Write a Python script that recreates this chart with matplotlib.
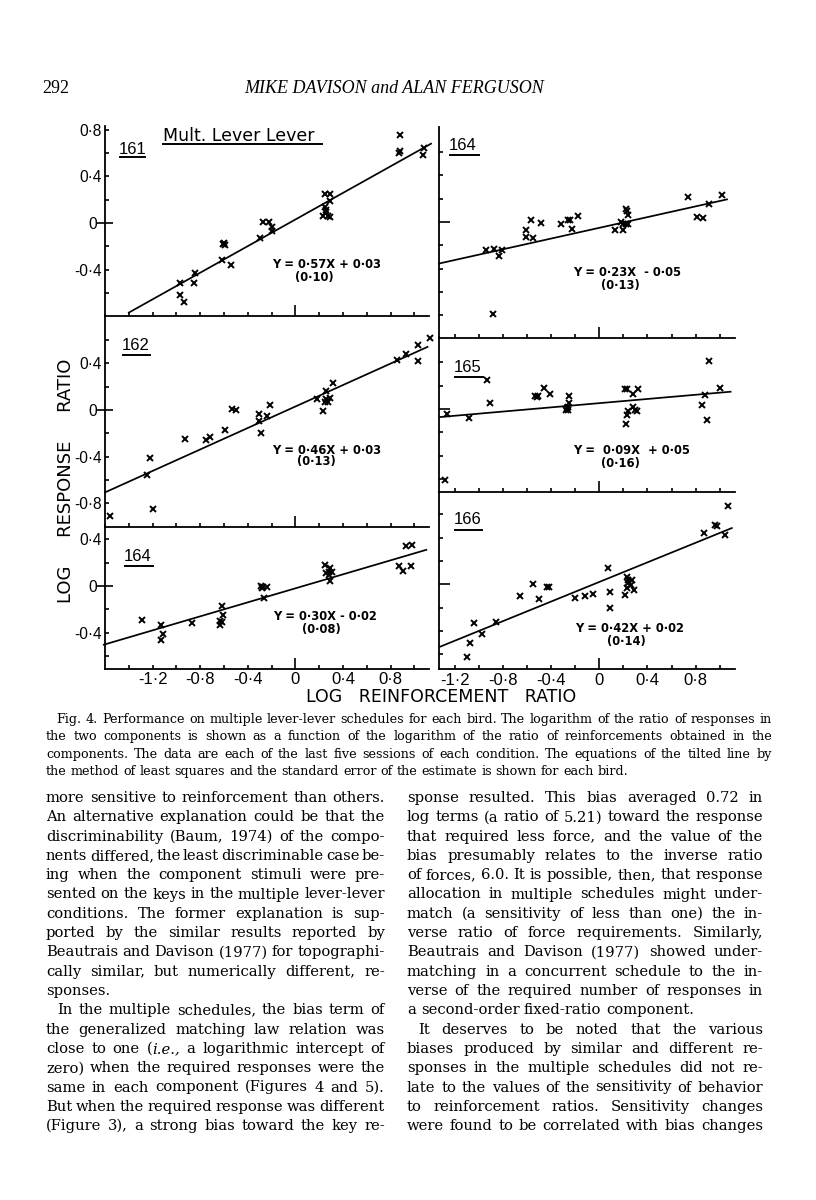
import matplotlib.pyplot as plt
from matplotlib.font_manager import FontProperties
from matplotlib.lines import Line2D

# ---- data (log reinforcement ratio, log response ratio) ----
x_161 = [0.88, 0.87, 0.88, 1.08, 1.07, 0.25, 0.29, 0.29, 0.25, 0.26, 0.23, 0.27, 0.29, 0.26,
         -0.27, -0.22, -0.20, -0.20, -0.30, -0.60, -0.59, -0.61, -0.62, -0.54, -0.84, -0.85,
         -0.97, -0.97, -0.94]
y_161 = [0.75, 0.60, 0.62, 0.64, 0.58, 0.25, 0.25, 0.19, 0.14, 0.11, 0.06, 0.06, 0.05, 0.09,
         0.01, 0.01, -0.03, -0.07, -0.13, -0.17, -0.19, -0.18, -0.32, -0.36, -0.43, -0.51,
         -0.51, -0.62, -0.68]

x_162 = [1.13, 1.03, 0.93, 0.85, 1.03, 0.32, 0.26, 0.18, 0.26, 0.27, 0.29, 0.25, 0.23, -0.21,
         -0.31, -0.31, -0.24, -0.29, -0.53, -0.50, -0.59, -0.75, -0.72, -0.93, -1.22, -1.25,
         -1.20, -1.56]
y_162 = [0.62, 0.56, 0.48, 0.43, 0.42, 0.23, 0.16, 0.09, 0.09, 0.07, 0.10, 0.07, -0.01, 0.04,
         -0.03, -0.09, -0.05, -0.20, 0.01, 0.00, -0.17, -0.26, -0.23, -0.25, -0.41, -0.56,
         -0.85, -0.91]

x_164a = [0.93, 0.98, 0.87, 0.90, 0.97, 0.25, 0.29, 0.26, 0.28, 0.31, 0.28, 0.29, -0.29, -0.28,
          -0.24, -0.27, -0.26, -0.62, -0.61, -0.63, -0.63, -0.62, -0.87, -1.29, -1.13, -1.11,
          -1.13]
y_164a = [0.34, 0.35, 0.17, 0.13, 0.17, 0.18, 0.15, 0.11, 0.09, 0.12, 0.12, 0.04, 0.00, -0.02,
          -0.01, -0.01, -0.10, -0.17, -0.25, -0.30, -0.33, -0.31, -0.32, -0.29, -0.33, -0.41,
          -0.46]

x_164b = [-0.88, -0.94, -0.87, -0.81, -0.83, -0.61, -0.61, -0.55, -0.57, -0.48, -0.32, -0.26,
          -0.24, -0.18, -0.23, 0.13, 0.18, 0.20, 0.22, 0.24, 0.20, 0.22, 0.23, 0.24, 0.74, 0.91,
          0.81, 0.86, 1.02]
y_164b = [-0.79, -0.24, -0.23, -0.24, -0.29, -0.07, -0.13, -0.14, 0.02, -0.01, -0.02, 0.02,
          0.02, 0.05, -0.06, -0.07, 0.00, -0.02, -0.02, -0.02, -0.07, 0.11, 0.09, 0.06, 0.21,
          0.15, 0.04, 0.03, 0.23]

x_165 = [0.91, 1.00, 0.88, 0.85, 0.89, -0.93, -0.91, -1.26, -1.08, -1.28, -0.53, -0.51, -0.52,
         -0.46, -0.41, -0.25, -0.25, -0.27, -0.28, -0.26, -0.26, 0.21, 0.23, 0.28, 0.32, 0.22,
         0.23, 0.24, 0.28, 0.30, 0.31]
y_165 = [0.41, 0.18, 0.12, 0.03, -0.09, 0.25, 0.05, -0.04, -0.08, -0.61, 0.11, 0.11, 0.10,
         0.18, 0.13, 0.11, 0.05, 0.01, -0.01, -0.01, 0.02, 0.17, 0.17, 0.13, 0.17, -0.13,
         -0.05, -0.02, 0.02, -0.01, -0.02]

x_166 = [1.07, 0.96, 0.98, 0.87, 1.04, 0.07, 0.23, 0.27, 0.24, 0.26, 0.23, 0.29, 0.21, 0.24,
         0.09, 0.09, -0.05, -0.12, -0.20, -0.55, -0.43, -0.42, -0.50, -0.66, -0.86, -0.97,
         -1.04, -1.07, -1.10]
y_166 = [0.67, 0.51, 0.50, 0.44, 0.42, 0.14, 0.06, 0.04, 0.01, -0.01, -0.03, -0.05, -0.09, 0.04,
         -0.07, -0.20, -0.08, -0.10, -0.12, 0.00, -0.02, -0.02, -0.13, -0.10, -0.32, -0.43,
         -0.33, -0.50, -0.62]

birds = ["161", "162", "164", "164", "165", "166"]
slopes = [0.57, 0.46, 0.30, 0.23, 0.09, 0.42]
intercepts = [0.03, 0.03, -0.02, -0.05, 0.05, 0.02]
std_errors = ["0·10", "0·13", "0·08", "0·13", "0·16", "0·14"]
fit_ranges = [(-1.40, 1.14), (-1.60, 1.11), (-1.61, 1.10),
              (-1.33, 1.06), (-1.32, 1.09), (-1.32, 1.10)]
equations = ["Y = 0·57X + 0·03", "Y = 0·46X + 0·03", "Y = 0·30X - 0·02",
             "Y = 0·23X  - 0·05", "Y =  0·09X  + 0·05", "Y = 0·42X + 0·02"]
xs = [x_161, x_162, x_164a, x_164b, x_165, x_166]
ys = [y_161, y_162, y_164a, y_164b, y_165, y_166]

xtick_labels = ["-1·2", "-0·8", "-0·4", "0", "0·4", "0·8"]

W, H = 816, 1200
PX = 116.7  # pixels per log unit, vertical

fig = plt.figure(figsize=(W / 100, H / 100), dpi=100)
rend = fig.canvas.get_renderer()


def fx(x):
    return x / W


def fy(y):
    return 1 - y / H


# column: left px, xlim, px per unit
columns = {"L": (105, (-1.6, 1.12), 119.0), "R": (439, (-1.33, 1.13), 120.5)}
# panel: column, pixel y of zero, ylim, label pos, underline, equation pos, paren pos
panels = [
    ("L", 223.0, (-0.80, 0.83), (119, 149), (120, 145, 157), (272, 265), (295, 277)),
    ("L", 410.0, (-1.00, 0.81), (122, 345), (123, 150, 355), (272, 450), (297, 462)),
    ("L", 586.0, (-0.71, 0.52), (124, 557), (125, 153, 566), (273, 617), (302, 630)),
    ("R", 222.0, (-0.995, 0.81), (449, 146), (450, 479, 155), (573, 273), (601, 286)),
    ("R", 409.0, (-0.71, 0.62), (454, 367), (455, 483, 377), (573, 450), (601, 463.5)),
    ("R", 584.3, (-0.73, 0.79), (454, 520), (455, 482, 530), (575, 628.5), (607, 642)),
]

TICK_FAMILY = "Liberation Sans"
axes = []
for i, (col, zero_px, ylim, lab, ul, eq, par) in enumerate(panels):
    left, xlim, xscale = columns[col]
    h = (ylim[1] - ylim[0]) * PX
    w = (xlim[1] - xlim[0]) * xscale
    top = zero_px - ylim[1] * PX
    ax = fig.add_axes([fx(left), fy(top + h), w / W, h / H])
    axes.append(ax)
    ax.set_xlim(*xlim)
    ax.set_ylim(*ylim)
    for s in ["top", "right"]:
        ax.spines[s].set_visible(False)
    for s in ["left", "bottom"]:
        ax.spines[s].set_linewidth(1.3)
    ax.patch.set_alpha(0)

    # x ticks every 0.2, long tick at zero
    start = -1.4 if col == "L" else -1.2
    xt = [round(start + 0.2 * k, 1) for k in range(int(round((1.0 - start) / 0.2)) + 1)]
    xt_minor = [v for v in xt if abs(v) > 1e-9]
    bottom_row = i in (2, 5)
    lab_map = {float(t.replace("·", ".")): t for t in xtick_labels}
    ax.set_xticks([0.0], ["0" if bottom_row else ""])
    ax.set_xticks(xt_minor, [lab_map.get(v, "") if bottom_row else "" for v in xt_minor],
                  minor=True)
    ax.tick_params(axis="x", which="minor", direction="in", length=3.2, width=1.2, pad=2.5,
                   labelsize=12)
    ax.tick_params(axis="x", which="major", direction="in", length=8, width=1.2, pad=2.5,
                   labelsize=12)

    # y ticks every 0.2, long tick at zero
    yt = [round(0.2 * k, 1) for k in range(-5, 5)]
    yt_minor = [v for v in yt if ylim[0] + 0.03 < v < ylim[1] - 0.025 and abs(v) > 1e-9]
    if col == "L":
        ylab = {v: ("" if round(v / 0.2) % 2 else f"{v:.1f}".replace(".", "·"))
                for v in yt_minor}
        ax.set_yticks([0.0], ["0"])
        ax.set_yticks(yt_minor, [ylab[v] for v in yt_minor], minor=True)
        ax.tick_params(axis="y", which="major", direction="inout", length=12, width=1.2,
                       pad=0, labelsize=11.2)
    else:
        ax.set_yticks([0.0], [""])
        ax.set_yticks(yt_minor, [""] * len(yt_minor), minor=True)
        ax.tick_params(axis="y", which="major", direction="in", length=8, width=1.2)
    ax.tick_params(axis="y", which="minor", direction="in", length=3.2, width=1.2, pad=2,
                   labelsize=11.2)
    for t in ax.get_xticklabels(which="both") + ax.get_yticklabels(which="both"):
        t.set_family(TICK_FAMILY)

    # fitted line and points
    a, b = fit_ranges[i]
    ax.plot([a, b], [slopes[i] * a + intercepts[i], slopes[i] * b + intercepts[i]],
            color="black", lw=1.25, clip_on=False, zorder=2)
    ax.plot(xs[i], ys[i], linestyle="none", marker="x", ms=4.9, mew=1.4, color="black",
            clip_on=False, zorder=3)

    # bird number, underlined
    fig.text(fx(lab[0]), fy(lab[1]), birds[i], fontsize=12, family="Liberation Sans",
             ha="left", va="center")
    fig.add_artist(Line2D([fx(ul[0]), fx(ul[1])], [fy(ul[2]), fy(ul[2])], color="black",
                          lw=1.4))

    # equation and standard error
    fig.text(fx(eq[0]), fy(eq[1]), equations[i], fontsize=8.3, weight="bold",
             family="DejaVu Sans", ha="left", va="center")
    fig.text(fx(par[0]), fy(par[1]), "(" + std_errors[i] + ")", fontsize=8.3,
             weight="bold", family="DejaVu Sans", ha="left", va="center")

# title of the figure
fig.text(fx(163), fy(136), "Mult. Lever Lever", fontsize=12.5, family="DejaVu Sans",
         ha="left", va="center")
fig.add_artist(Line2D([fx(163), fx(322)], [fy(144), fy(144)], color="black", lw=1.4))

# axis titles
fig.text(fx(441), fy(697), "LOG   REINFORCEMENT   RATIO", fontsize=12.5,
         family="DejaVu Sans", ha="center", va="center")
fig.text(fx(66), fy(481), "LOG     RESPONSE     RATIO", fontsize=13, family="DejaVu Sans",
         rotation=90, ha="center", va="center")

# ---- page text ----
serif = FontProperties(family="Liberation Serif", size=13)
header = FontProperties(family="Liberation Serif", style="italic", size=13)
fig.text(fx(42), fy(93), "292", fontproperties=serif, ha="left", va="baseline")
fig.text(fx(394), fy(93), "MIKE DAVISON and ALAN FERGUSON", fontproperties=header,
         ha="center", va="baseline")

cap_fp = FontProperties(family="DejaVu Serif", size=9.2)
cap_it = FontProperties(family="DejaVu Serif", style="italic", size=9.2)
body_fp = FontProperties(family="DejaVu Serif", size=10.6)
body_it = FontProperties(family="DejaVu Serif", style="italic", size=10.6)

caption_lines = [
    "Fig. 4. Performance on multiple lever-lever schedules for each bird. The logarithm of the ratio of responses in",
    "the two components is shown as a function of the logarithm of the ratio of reinforcements obtained in the",
    "components. The data are each of the last five sessions of each condition. The equations of the tilted line by",
    "the method of least squares and the standard error of the estimate is shown for each bird.",
]

# "|" ends a paragraph (no justification), ">" indents, _..._ is italic
left_col = [
    "more sensitive to reinforcement than others.",
    "An alternative explanation could be that the",
    "discriminability (Baum, 1974) of the compo-",
    "nents differed, the least discriminable case be-",
    "ing when the component stimuli were pre-",
    "sented on the keys in the multiple lever-lever",
    "conditions. The former explanation is sup-",
    "ported by the similar results reported by",
    "Beautrais and Davison (1977) for topographi-",
    "cally similar, but numerically different, re-",
    "sponses.|",
    ">In the multiple schedules, the bias term of",
    "the generalized matching law relation was",
    "close to one (_i.e.,_ a logarithmic intercept of",
    "zero) when the required responses were the",
    "same in each component (Figures 4 and 5).",
    "But when the required response was different",
    "(Figure 3), a strong bias toward the key re-",
]

right_col = [
    "sponse resulted. This bias averaged 0.72 in",
    "log terms (a ratio of 5.21) toward the response",
    "that required less force, and the value of the",
    "bias presumably relates to the inverse ratio",
    "of forces, 6.0. It is possible, then, that response",
    "allocation in multiple schedules might under-",
    "match (a sensitivity of less than one) the in-",
    "verse ratio of force requirements. Similarly,",
    "Beautrais and Davison (1977) showed under-",
    "matching in a concurrent schedule to the in-",
    "verse of the required number of responses in",
    "a second-order fixed-ratio component.|",
    ">It deserves to be noted that the various",
    "biases produced by similar and different re-",
    "sponses in the multiple schedules did not re-",
    "late to the values of the sensitivity of behavior",
    "to reinforcement ratios. Sensitivity changes",
    "were found to be correlated with bias changes",
]


def text_w(s, fp):
    return rend.get_text_width_height_descent(s, fp, ismath=False)[0]


def split_word(word, fp, fp_it):
    # a word may switch between upright and italic at each "_"
    parts = word.split("_")
    return [(p, fp_it if k % 2 else fp) for k, p in enumerate(parts) if p]


def put_line(line, x0, x1, y, fp, fp_it, indent=11):
    justify = not line.endswith("|")
    line = line.rstrip("|")
    if line.startswith(">"):
        line = line[1:]
        x0 = x0 + indent
    words = [split_word(wd, fp, fp_it) for wd in line.split()]
    widths = [sum(text_w(s, p) for s, p in wd) for wd in words]
    space = text_w("a a", fp) - text_w("aa", fp)
    if justify and len(words) > 1:
        gap = (x1 - x0 - sum(widths)) / (len(words) - 1)
    else:
        gap = space
    x = x0
    for wd, wdt in zip(words, widths):
        xx = x
        for s, p in wd:
            fig.text(fx(xx), fy(y), s, fontproperties=p, ha="left", va="baseline")
            xx += text_w(s, p)
        x += wdt + gap


for k, line in enumerate(caption_lines):
    if k == 0:
        line = ">" + line
    if k == len(caption_lines) - 1:
        line = line + "|"
    put_line(line, 46, 772, 723 + 17.3 * k, cap_fp, cap_it, indent=10)

for k, line in enumerate(left_col):
    put_line(line, 46, 385, 802 + 19.3 * k, body_fp, body_it)
for k, line in enumerate(right_col):
    put_line(line, 407, 763, 802 + 19.3 * k, body_fp, body_it)

fig.savefig("out.png", dpi=100)
